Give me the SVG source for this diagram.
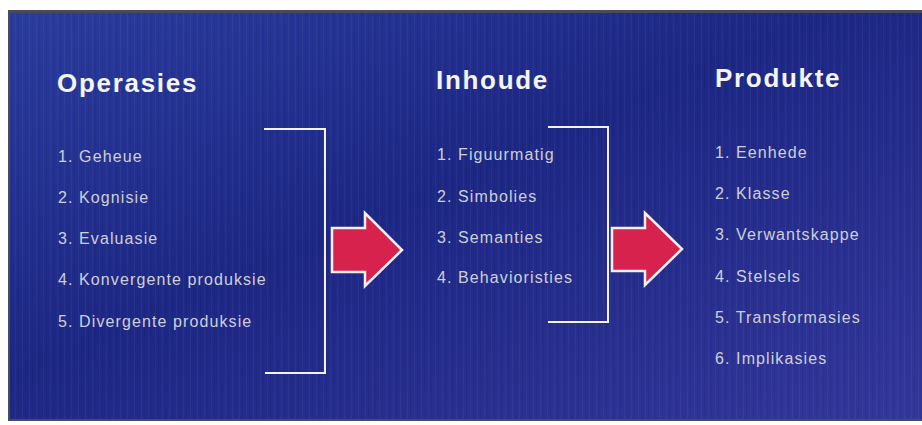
<svg xmlns="http://www.w3.org/2000/svg" width="922" height="425" viewBox="0 0 922 425">
  <defs>
    <linearGradient id="bg" x1="0" y1="0" x2="1" y2="1">
      <stop offset="0" stop-color="#2a3c9e"/>
      <stop offset="0.45" stop-color="#1d2784"/>
      <stop offset="1" stop-color="#33379a"/>
    </linearGradient>
    <pattern id="streaks" width="7" height="425" patternUnits="userSpaceOnUse">
      <rect x="1" y="0" width="1" height="425" fill="#ffffff" opacity="0.04"/>
      <rect x="4" y="0" width="1" height="425" fill="#000020" opacity="0.06"/>
    </pattern>
    <style>
      .head { font-family: "Liberation Sans", Arial, sans-serif; font-weight: bold; font-size: 26px; letter-spacing: 1.7px; fill: #f4f4f0; }
      .item { font-family: "Liberation Sans", Arial, sans-serif; font-size: 16px; letter-spacing: 1.1px; fill: #cdd0d8; }
      .bracket { fill: none; stroke: #f2f2f2; stroke-width: 2; }
      .arrow { fill: #d8224e; stroke: #f4f0f0; stroke-width: 2.5; stroke-linejoin: miter; }
    </style>
  </defs>

  <rect x="0" y="0" width="922" height="425" fill="#ffffff"/>

  <!-- panel -->
  <g id="panel">
    <rect x="8" y="10" width="914" height="411" fill="#4a4a5a"/>
    <rect x="10" y="13" width="912" height="406" fill="url(#bg)"/>
    <rect x="10" y="13" width="912" height="406" fill="url(#streaks)"/>
  </g>

  <!-- column: operations -->
  <g id="operasies">
    <text class="head" x="57" y="92">Operasies</text>
    <text class="item" x="58" y="162">1. Geheue</text>
    <text class="item" x="58" y="203">2. Kognisie</text>
    <text class="item" x="58" y="244">3. Evaluasie</text>
    <text class="item" x="58" y="285">4. Konvergente produksie</text>
    <text class="item" x="58" y="327">5. Divergente produksie</text>
  </g>

  <!-- column: contents -->
  <g id="inhoude">
    <text class="head" x="436" y="89">Inhoude</text>
    <text class="item" x="437" y="160">1. Figuurmatig</text>
    <text class="item" x="437" y="202">2. Simbolies</text>
    <text class="item" x="437" y="243">3. Semanties</text>
    <text class="item" x="437" y="283">4. Behavioristies</text>
  </g>

  <!-- column: products -->
  <g id="produkte">
    <text class="head" x="715" y="87">Produkte</text>
    <text class="item" x="715" y="158">1. Eenhede</text>
    <text class="item" x="715" y="199">2. Klasse</text>
    <text class="item" x="715" y="240">3. Verwantskappe</text>
    <text class="item" x="715" y="282">4. Stelsels</text>
    <text class="item" x="715" y="323">5. Transformasies</text>
    <text class="item" x="715" y="364">6. Implikasies</text>
  </g>

  <!-- brackets and arrows -->
  <g id="connectors">
    <polyline class="bracket" points="264,129 325,129 325,373 265,373"/>
    <polyline class="bracket" points="548,127 608,127 608,322 548,322"/>
    <polygon class="arrow" points="332,228 365,228 365,213 402,250 365,286 365,272 332,272"/>
    <polygon class="arrow" points="612,228 645,228 645,213 682,249 645,285 645,271 612,271"/>
  </g>
</svg>
